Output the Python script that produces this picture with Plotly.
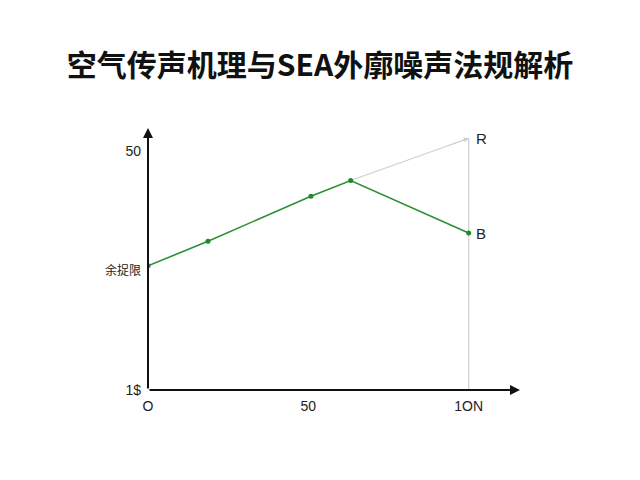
import plotly.graph_objects as go

# main green series
x_vals = [0, 18.7, 50.8, 63.2, 100]
y_vals = [33.2, 36.8, 43.4, 45.7, 38.0]

# light gray reference branch
ref_x = [63.2, 100, 100]
ref_y = [45.7, 51.9, 15]

x_ticks = [0, 50, 100]
x_ticktext = ['O', '50', '1ON']
y_ticks = [15, 32.6, 50]
y_ticktext = ['1$', '<span style="font-size:12px">余捉限</span>', '50']

end_labels = ['R', 'B']
end_label_y = [51.9, 38.0]

x_range = [0, 116]
y_range = [15, 53.4]

fig = go.Figure()

fig.add_trace(go.Scatter(
    x=ref_x, y=ref_y,
    mode='lines',
    line=dict(color='#cfcfcf', width=1.2),
    showlegend=False,
    hoverinfo='skip'
))

fig.add_trace(go.Scatter(
    x=x_vals, y=y_vals,
    mode='lines+markers',
    line=dict(color='#2b8f34', width=1.6),
    marker=dict(color='#1f8a2a', size=5),
    showlegend=False
))

# end labels R / B
for lab, ly in zip(end_labels, end_label_y):
    fig.add_annotation(
        x=100, y=ly, xref='x', yref='y',
        text=lab, showarrow=False,
        xanchor='left', xshift=5,
        font=dict(size=15, color='#222222', family='Liberation Sans')
    )

# small arrowhead at the end of the gray branch
fig.add_annotation(
    x=ref_x[1], y=ref_y[1], ax=ref_x[0] + 30, ay=ref_y[0] + 5.05,
    xref='x', yref='y', axref='x', ayref='y',
    showarrow=True, arrowhead=2, arrowsize=1, arrowwidth=1,
    arrowcolor='#cfcfcf', text=''
)

# axis arrows
fig.add_annotation(
    x=x_range[1], y=y_range[0], ax=0, ay=y_range[0],
    xref='x', yref='y', axref='x', ayref='y',
    showarrow=True, arrowhead=2, arrowsize=1, arrowwidth=2,
    arrowcolor='#111111', text=''
)
fig.add_annotation(
    x=0, y=y_range[1], ax=0, ay=y_range[0],
    xref='x', yref='y', axref='x', ayref='y',
    showarrow=True, arrowhead=2, arrowsize=1, arrowwidth=2,
    arrowcolor='#111111', text=''
)

fig.update_layout(
    title=dict(
        text='<b>空气传声机理与SEA外廓噪声法规解析</b>',
        x=0.4875, xanchor='center', y=0.881, yanchor='middle',
        font=dict(size=30, color='#111111', family='Noto Sans CJK SC')
    ),
    width=640, height=480,
    margin=dict(l=140, r=128, t=120, b=98),
    plot_bgcolor='white',
    paper_bgcolor='white',
    xaxis=dict(
        range=x_range,
        tickvals=x_ticks, ticktext=x_ticktext,
        showgrid=False, zeroline=False, showline=False,
        ticks='', ticklabelstandoff=6,
        tickfont=dict(size=14, color='#222222', family='Liberation Sans')
    ),
    yaxis=dict(
        range=y_range,
        tickvals=y_ticks, ticktext=y_ticktext,
        showgrid=False, zeroline=False, showline=False,
        ticks='', ticklabelstandoff=6,
        tickfont=dict(size=14, color='#222222', family='Liberation Sans, Noto Sans CJK SC')
    ),
)

fig.write_html("out.html")
